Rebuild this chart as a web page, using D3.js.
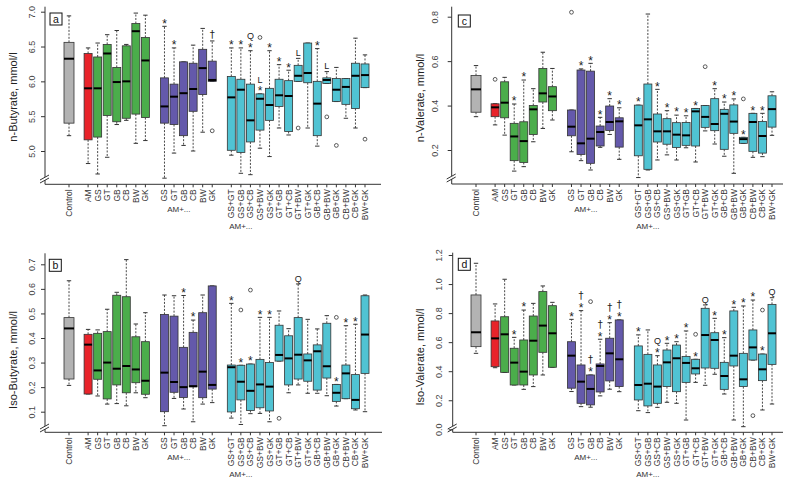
<!DOCTYPE html>
<html><head><meta charset="utf-8">
<script src="https://cdn.jsdelivr.net/npm/d3@7"></script>
<style>body{margin:0;background:#fff}svg{display:block}text{font-family:"Liberation Sans",Arial,sans-serif}</style>
</head><body>
<svg id="chart" width="792" height="479"></svg>
<script>
// ---------- categories ----------
const labels = ["Control","AM","GS","GT","GB","CB","BW","GK","GS","GT","GB","CB","BW","GK",
  "GS+GT","GS+GB","GS+CB","GS+BW","GS+GK","GT+GB","GT+CB","GT+BW","GT+GK","GB+CB","GB+BW","GB+GK","CB+BW","CB+GK","BW+GK"];
const positions = [1,3,4,5,6,7,8,9,11,12,13,14,15,16,18,19,20,21,22,23,24,25,26,27,28,29,30,31,32];
const groups = [0,1,2,2,2,2,2,2,3,3,3,3,3,3,4,4,4,4,4,4,4,4,4,4,4,4,4,4,4];
const groupColors = ["#b3b3b3","#e8232a","#4bad4b","#6459ab","#50c3d3"];
const groupLabel = "AM+...";

// ---------- n-Butyrate (a): [min, q1, median, q3, max] ----------
const butyrateStats = [
 [5.22,5.40,6.325,6.56,6.94],[4.82,5.16,5.90,6.40,6.48],[4.67,5.20,5.90,6.35,6.55],[4.91,5.51,6.40,6.53,6.67],
 [5.38,5.42,5.99,6.20,6.73],[5.44,5.47,6.00,6.51,6.53],[5.11,5.53,6.72,6.83,6.98],[5.15,5.48,6.30,6.63,6.95],
 [4.61,5.40,5.64,6.05,6.79],[4.97,5.38,5.78,5.96,6.48],[5.08,5.22,5.83,6.28,6.28],[5.00,5.57,5.89,6.26,6.52],
 [5.27,5.81,6.19,6.46,6.76],[6.00,6.00,6.02,6.29,6.58],
 [4.94,5.01,5.77,6.07,6.48],[4.68,4.98,5.88,6.03,6.48],[4.66,5.13,5.44,5.96,6.44],[5.04,5.30,5.75,5.82,5.82],
 [4.92,5.44,5.66,5.90,6.44],[5.33,5.64,5.80,6.03,6.24],[5.23,5.28,5.79,6.01,6.16],[6.00,6.00,6.08,6.23,6.33],
 [5.33,5.98,6.12,6.55,6.55],[5.07,5.22,5.68,6.00,6.47],[5.97,5.97,6.02,6.05,6.14],[5.71,5.71,5.88,6.04,6.20],
 [5.47,5.67,5.92,6.04,6.04],[5.33,5.61,6.08,6.26,6.62],[5.91,5.91,6.09,6.25,6.38]];
const butyrateOutliers = [[13,5.29],[17,6.63],[21,5.33],[24,5.49],[25,5.08],[28,5.17]];
const butyrateMarks = ["","","","","","","","","*","*","","","","†","*","*","Q*","L*","*","*","*","L","","*","L","","","",""];

// ---------- n-Valerate (c) ----------
const valerateStats = [
 [0.35,0.37,0.473,0.535,0.58],[0.313,0.35,0.392,0.408,0.408],[0.267,0.345,0.413,0.507,0.527],[0.105,0.152,0.261,0.32,0.407],
 [0.125,0.144,0.24,0.327,0.515],[0.237,0.27,0.383,0.40,0.476],[0.297,0.416,0.455,0.567,0.64],[0.335,0.377,0.441,0.485,0.567],
 [0.192,0.264,0.305,0.38,0.38],[0.152,0.18,0.23,0.56,0.565],[0.11,0.14,0.251,0.555,0.59],[0.212,0.218,0.281,0.308,0.347],
 [0.27,0.288,0.326,0.398,0.431],[0.158,0.213,0.329,0.345,0.39],
 [0.076,0.174,0.311,0.402,0.402],[0.11,0.113,0.338,0.497,0.812],[0.155,0.236,0.284,0.362,0.473],[0.178,0.226,0.284,0.341,0.377],
 [0.155,0.211,0.269,0.323,0.357],[0.21,0.221,0.266,0.324,0.354],[0.146,0.218,0.374,0.387,0.387],[0.286,0.302,0.349,0.40,0.40],
 [0.227,0.287,0.317,0.431,0.476],[0.172,0.203,0.363,0.383,0.416],[0.095,0.275,0.328,0.403,0.43],[0.23,0.23,0.249,0.257,0.257],
 [0.167,0.194,0.326,0.365,0.365],[0.17,0.186,0.263,0.328,0.365],[0.266,0.303,0.384,0.444,0.462]];
const valerateOutliers = [[1,0.518],[8,0.82],[21,0.575],[25,0.43]];
const valerateMarks = ["","","","*","*","","","","","*","*","*","*","*","*","","*","*","*","*","*","","*","*","*","*","*","*",""];

// ---------- Iso-Butyrate (b) ----------
const isoButyrateStats = [
 [0.207,0.233,0.439,0.483,0.633],[0.172,0.172,0.373,0.415,0.435],[0.164,0.232,0.268,0.419,0.433],[0.131,0.152,0.30,0.426,0.517],
 [0.133,0.209,0.275,0.574,0.586],[0.124,0.177,0.286,0.568,0.719],[0.177,0.218,0.272,0.405,0.457],[0.157,0.171,0.226,0.385,0.503],
 [0.043,0.10,0.259,0.496,0.575],[0.154,0.179,0.221,0.489,0.572],[0.111,0.158,0.20,0.362,0.573],[0.059,0.201,0.204,0.423,0.473],
 [0.131,0.157,0.263,0.503,0.575],[0.137,0.192,0.209,0.612,0.612],
 [0.074,0.099,0.281,0.29,0.541],[0.048,0.148,0.222,0.289,0.289],[0.092,0.105,0.185,0.294,0.294],[0.093,0.116,0.211,0.313,0.484],
 [0.059,0.103,0.202,0.30,0.484],[0.306,0.306,0.331,0.452,0.51],[0.177,0.209,0.317,0.409,0.438],[0.209,0.233,0.332,0.483,0.62],
 [0.175,0.224,0.309,0.335,0.476],[0.175,0.188,0.346,0.372,0.437],[0.165,0.237,0.285,0.46,0.491],[0.123,0.142,0.177,0.211,0.211],
 [0.153,0.153,0.256,0.29,0.45],[0.107,0.112,0.148,0.251,0.456],[0.10,0.256,0.414,0.572,0.575]];
const isoButyrateOutliers = [[15,0.514],[16,0.595],[19,0.073],[25,0.484]];
const isoButyrateMarks = ["","","","","","","","","","","*","*","","","*","*","*","*","*","","","Q","","","","*","*","*",""];

// ---------- Iso-Valerate (d) ----------
const isoValerateStats = [
 [0.523,0.569,0.668,0.925,1.143],[0.424,0.431,0.626,0.746,0.863],[0.392,0.392,0.654,0.775,1.033],[0.305,0.305,0.459,0.558,0.633],
 [0.275,0.305,0.397,0.615,0.821],[0.294,0.374,0.61,0.78,0.867],[0.374,0.53,0.714,0.948,0.987],[0.427,0.427,0.661,0.851,0.874],
 [0.26,0.283,0.507,0.603,0.757],[0.156,0.179,0.328,0.443,0.817],[0.152,0.168,0.278,0.374,0.374],[0.23,0.257,0.436,0.45,0.62],
 [0.276,0.333,0.523,0.627,0.734],[0.259,0.294,0.482,0.753,0.753],
 [0.128,0.202,0.305,0.574,0.65],[0.115,0.161,0.314,0.516,0.684],[0.151,0.179,0.294,0.443,0.507],[0.186,0.294,0.461,0.546,0.592],
 [0.179,0.259,0.489,0.58,0.603],[0.064,0.323,0.457,0.502,0.677],[0.323,0.381,0.42,0.482,0.482],[0.303,0.422,0.649,0.833,0.856],
 [0.379,0.42,0.615,0.665,0.764],[0.243,0.275,0.367,0.461,0.631],[0.064,0.436,0.507,0.815,0.84],[0.018,0.294,0.344,0.523,0.849],
 [0.477,0.477,0.564,0.684,0.89],[0.133,0.335,0.413,0.518,0.518],[0.174,0.447,0.661,0.86,0.906]];
const isoValerateOutliers = [[10,0.879],[20,0.654],[26,0.094],[27,0.821]];
const isoValerateMarks = ["","","","*","*","","","","*","†*","†*","†*","†*","†*","*","","Q*","*","*","*","*","Q","*","*","*","*","*","*","Q"];

// ---------- tick labels ----------
const butyrateTicks = [5.0,5.5,6.0,6.5,7.0];
const valerateTicks = [0.2,0.4,0.6,0.8];
const isoButyrateTicks = [0.1,0.2,0.3,0.4,0.5,0.6,0.7];
const isoValerateTicks = [0.0,0.2,0.4,0.6,0.8,1.0,1.2];

const svg = d3.select("#chart");
const ink = "#333";

function drawPanel(p) {
  const g = svg.append("g");
  const x = d3.scaleLinear().domain([1,32]).range(p.xr);
  const y = d3.scaleLinear().domain(p.yd).range(p.yr);

  // y axis
  g.append("line").attr("x1",p.ax).attr("x2",p.ax).attr("y1",p.top).attr("y2",p.bottom).attr("stroke",ink);
  const ya = g.append("g").attr("transform",`translate(${p.ax},0)`)
    .call(d3.axisLeft(y).tickValues(p.ticks).tickSize(4).tickFormat(d3.format(".1f")));
  ya.select(".domain").remove();
  ya.selectAll("line").attr("stroke",ink);
  ya.selectAll("text").attr("x",null).attr("dy",null)
    .attr("transform",`translate(${-p.labOff},0) rotate(-90)`)
    .attr("text-anchor","middle").attr("dominant-baseline","central")
    .attr("font-size",9).attr("fill","#444")
    .style("font-family","'Liberation Sans',Arial,sans-serif");

  // x axis
  g.append("line").attr("x1",p.ax).attr("x2",p.xEnd).attr("y1",p.bottom).attr("y2",p.bottom).attr("stroke",ink);
  positions.forEach((pos,i) => {
    const cx = x(pos);
    g.append("line").attr("x1",cx).attr("x2",cx).attr("y1",p.bottom).attr("y2",p.bottom+3).attr("stroke",ink);
    g.append("text").attr("transform",`translate(${cx},${p.bottom+5}) rotate(-90)`)
      .attr("text-anchor","end").attr("dominant-baseline","central")
      .attr("font-size",8.5).attr("fill","#333").text(labels[i]);
  });
  g.append("text").attr("x",x(12.5)).attr("y",p.bottom+25).attr("text-anchor","middle")
    .attr("dominant-baseline","central").attr("font-size",8).attr("fill","#333").text(groupLabel);
  g.append("text").attr("x",x(19)).attr("y",p.bottom+42).attr("text-anchor","middle")
    .attr("dominant-baseline","central").attr("font-size",8).attr("fill","#333").text(groupLabel);

  // axis break
  g.append("rect").attr("x",p.ax-1).attr("y",p.brk-2).attr("width",2).attr("height",3).attr("fill","#fff");
  [0,3].forEach(o => g.append("line").attr("x1",p.ax-5).attr("y1",p.brk+1+o).attr("x2",p.ax+4).attr("y2",p.brk-4+o).attr("stroke",ink));

  // title
  g.append("text").attr("transform",`translate(${p.tx},${p.ty}) rotate(-90)`).attr("text-anchor","middle")
    .attr("dominant-baseline","central").attr("font-size",11).attr("fill","#222").text(p.title);

  // panel letter
  g.append("rect").attr("x",p.lx).attr("y",p.ly).attr("width",12).attr("height",12).attr("fill","#fff").attr("stroke","#111");
  g.append("text").attr("x",p.lx+6).attr("y",p.ly+6).attr("text-anchor","middle").attr("dominant-baseline","central")
    .attr("font-size",10.5).attr("fill","#111").text(p.letter);

  // boxes
  p.stats.forEach((s,i) => {
    const cx = x(positions[i]);
    const w = i === 0 ? 10 : 8;
    const [lo,q1,md,q3,hi] = s;
    const bg = g.append("g");
    bg.append("line").attr("x1",cx).attr("x2",cx).attr("y1",y(q3)).attr("y2",y(hi)).attr("stroke",ink).attr("stroke-dasharray","2,1.5").attr("stroke-width",0.9);
    bg.append("line").attr("x1",cx).attr("x2",cx).attr("y1",y(q1)).attr("y2",y(lo)).attr("stroke",ink).attr("stroke-dasharray","2,1.5").attr("stroke-width",0.9);
    [hi,lo].forEach(v => bg.append("line").attr("x1",cx-2.2).attr("x2",cx+2.2).attr("y1",y(v)).attr("y2",y(v)).attr("stroke",ink));
    bg.append("rect").attr("x",cx-w/2).attr("y",y(q3)).attr("width",w).attr("height",Math.max(0.5,y(q1)-y(q3)))
      .attr("fill",groupColors[groups[i]]).attr("stroke",ink).attr("stroke-width",0.8);
    bg.append("line").attr("x1",cx-w/2).attr("x2",cx+w/2).attr("y1",y(md)).attr("y2",y(md)).attr("stroke","#000").attr("stroke-width",2);

    const chars = Array.from(p.marks[i]).reverse();
    chars.forEach((ch,k) => {
      const c = y(hi) - 5.5 - k*9;
      let fs = 12, off = 0.57, fam = "'Liberation Sans',Arial,sans-serif";
      if (ch === "†") { fs = 10; off = 0.3; fam = "'DejaVu Sans',sans-serif"; }
      if (ch === "Q" || ch === "L") { fs = 9; off = 0.36; }
      bg.append("text").attr("x",cx).attr("y",c + off*fs).attr("text-anchor","middle")
        .style("font-family",fam).attr("font-size",fs).attr("fill","#222").text(ch);
    });
  });
  p.outliers.forEach(([i,v]) => {
    g.append("circle").attr("cx",x(positions[i])).attr("cy",y(v)).attr("r",1.9).attr("fill","none").attr("stroke",ink).attr("stroke-width",0.8);
  });
}

drawPanel({letter:"a", title:"n-Butyrate, mmol/l", stats:butyrateStats, outliers:butyrateOutliers, marks:butyrateMarks,
  ticks:butyrateTicks, xr:[69,365], yd:[5.0,7.0], yr:[151,11.7], ax:45, top:6.7, bottom:184.3, xEnd:381, brk:179,
  labOff:13, tx:13, ty:97, lx:50, ly:13});
drawPanel({letter:"c", title:"n-Valerate, mmol/l", stats:valerateStats, outliers:valerateOutliers, marks:valerateMarks,
  ticks:valerateTicks, xr:[476,772], yd:[0.2,0.8], yr:[150,16.7], ax:451.7, top:6.7, bottom:184, xEnd:783, brk:178,
  labOff:17, tx:420, ty:98, lx:458.3, ly:15});
drawPanel({letter:"b", title:"Iso-Butyrate, mmol/l", stats:isoButyrateStats, outliers:isoButyrateOutliers, marks:isoButyrateMarks,
  ticks:isoButyrateTicks, xr:[69,365], yd:[0.1,0.7], yr:[411.7,264.3], ax:45, top:253.3, bottom:432.3, xEnd:382, brk:428,
  labOff:13, tx:13, ty:360, lx:49.3, ly:259.3});
drawPanel({letter:"d", title:"Iso-Valerate, mmol/l", stats:isoValerateStats, outliers:isoValerateOutliers, marks:isoValerateMarks,
  ticks:isoValerateTicks, xr:[476,772], yd:[0.0,1.2], yr:[429.3,255], ax:452.7, top:252.7, bottom:432.3, xEnd:783, brk:428,
  labOff:14, tx:420, ty:357, lx:458.3, ly:258.3});
</script>
</body></html>
